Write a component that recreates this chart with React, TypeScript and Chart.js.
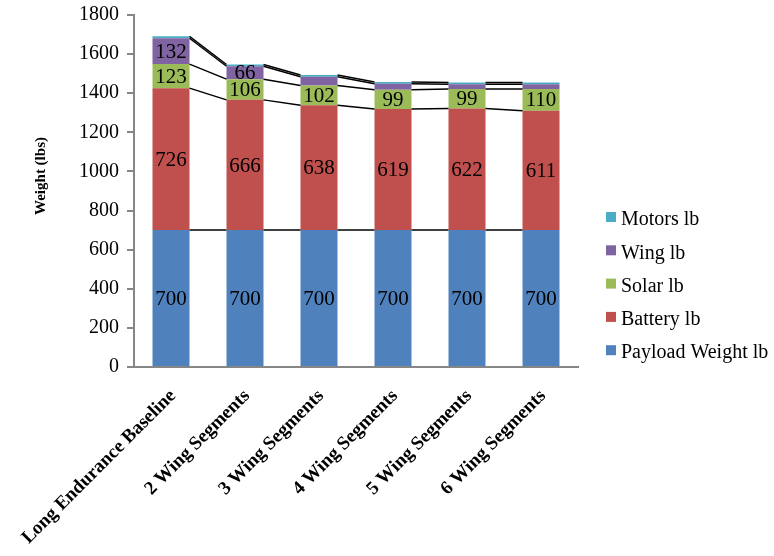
import React, { useEffect, useRef } from 'react';
import { Chart, registerables } from 'chart.js';

Chart.register(...registerables);

const categories = [
  'Long Endurance Baseline',
  '2 Wing Segments',
  '3 Wing Segments',
  '4 Wing Segments',
  '5 Wing Segments',
  '6 Wing Segments',
];
const payloadWeight = [700, 700, 700, 700, 700, 700];
const battery = [726, 666, 638, 619, 622, 611];
const solar = [123, 106, 102, 99, 99, 110];
const wing = [132, 66, 44, 30, 25, 25];
const motors = [10, 9, 9, 9, 9, 9];
const yMin = 0;
const yMax = 1800;
const yStep = 200;
const yTitle = 'Weight (lbs)';

const seriesNames = ['Payload Weight lb', 'Battery lb', 'Solar lb', 'Wing lb', 'Motors lb'];
const seriesColors = ['#4F81BD', '#C0504D', '#9BBB59', '#8064A2', '#4BACC6'];
const seriesData = [payloadWeight, battery, solar, wing, motors];
const labelMin = 50;

const FONT = "'Liberation Serif', 'Times New Roman', serif";

const seriesLinesPlugin = {
  id: 'seriesLines',
  afterDatasetsDraw(chart: any) {
    const ctx = chart.ctx;
    ctx.save();
    ctx.strokeStyle = '#000';
    ctx.lineWidth = 1.5;
    chart.data.datasets.forEach((_ds: any, d: number) => {
      const meta = chart.getDatasetMeta(d);
      for (let i = 0; i < meta.data.length - 1; i++) {
        const a = meta.data[i].getProps(['x', 'y', 'width'], true);
        const b = meta.data[i + 1].getProps(['x', 'y', 'width'], true);
        ctx.beginPath();
        ctx.moveTo(a.x + a.width / 2, a.y);
        ctx.lineTo(b.x - b.width / 2, b.y);
        ctx.stroke();
      }
    });
    ctx.restore();
  },
};

const valueLabelsPlugin = {
  id: 'valueLabels',
  afterDatasetsDraw(chart: any) {
    const ctx = chart.ctx;
    ctx.save();
    ctx.font = `21px ${FONT}`;
    ctx.fillStyle = '#000';
    ctx.textAlign = 'center';
    ctx.textBaseline = 'middle';
    chart.data.datasets.forEach((ds: any, d: number) => {
      if (d > 3) return;
      const meta = chart.getDatasetMeta(d);
      meta.data.forEach((el: any, i: number) => {
        const v = ds.data[i];
        if (v < labelMin) return;
        const p = el.getProps(['x', 'y', 'base'], true);
        ctx.fillText(String(v), p.x, (p.y + p.base) / 2 + 1);
      });
    });
    ctx.restore();
  },
};

const legendPlugin = {
  id: 'customLegend',
  afterDraw(chart: any) {
    const ctx = chart.ctx;
    ctx.save();
    ctx.font = `20px ${FONT}`;
    ctx.textAlign = 'left';
    ctx.textBaseline = 'middle';
    const n = chart.data.datasets.length;
    const x0 = chart.chartArea.right + 28;
    const yStart = 220;
    const gap = 33.3;
    for (let k = 0; k < n; k++) {
      const d = n - 1 - k;
      const ds = chart.data.datasets[d];
      const y = yStart + k * gap;
      ctx.fillStyle = ds.backgroundColor;
      ctx.fillRect(x0, y - 8, 10, 10);
      ctx.fillStyle = '#000';
      ctx.fillText(ds.label, x0 + 15, y);
    }
    ctx.restore();
  },
};

const yTitlePlugin = {
  id: 'yTitle',
  afterDraw(chart: any) {
    const ctx = chart.ctx;
    const area = chart.chartArea;
    ctx.save();
    ctx.font = `bold 15px ${FONT}`;
    ctx.fillStyle = '#000';
    ctx.textAlign = 'center';
    ctx.textBaseline = 'middle';
    ctx.translate(41, (area.top + area.bottom) / 2 - 15);
    ctx.rotate(-Math.PI / 2);
    ctx.fillText(yTitle, 0, 0);
    ctx.restore();
  },
};

export default function App() {
  const ref = useRef<HTMLCanvasElement | null>(null);
  useEffect(() => {
    if (!ref.current) return;
    Chart.defaults.font.family = FONT;
    Chart.defaults.color = '#000';
    const chart = new Chart(ref.current, {
      type: 'bar',
      data: {
        labels: categories,
        datasets: seriesData.map((data, i) => ({
          label: seriesNames[i],
          data,
          backgroundColor: seriesColors[i],
          borderWidth: 0,
          barPercentage: 0.5,
          categoryPercentage: 1,
          stack: 's',
        })),
      },
      options: {
        responsive: false,
        animation: false,
        layout: { padding: { left: 0, top: 15, right: 196, bottom: 0 } },
        plugins: {
          legend: { display: false },
          tooltip: { enabled: false },
        },
        scales: {
          x: {
            stacked: true,
            grid: { display: false, drawTicks: false, tickLength: 0 },
            border: { display: true, color: '#868686', width: 2 },
            ticks: {
              font: { size: 19, weight: 'bold', family: FONT },
              color: '#000',
              maxRotation: 45,
              minRotation: 45,
              autoSkip: false,
              padding: 18,
              labelOffset: 2,
            },
            afterFit(scale: any) {
              scale.height = 189;
              scale.paddingLeft = 0;
              scale.paddingRight = 0;
            },
          },
          y: {
            stacked: true,
            min: yMin,
            max: yMax,
            grid: {
              display: true,
              drawOnChartArea: false,
              drawTicks: true,
              tickLength: 7,
              color: '#868686',
              lineWidth: 2,
            },
            border: { display: true, color: '#868686', width: 2 },
            ticks: {
              stepSize: yStep,
              font: { size: 20, family: FONT },
              color: '#000',
              padding: 8,
              callback: (v: any) => String(v),
            },
            afterFit(scale: any) {
              scale.width = 134;
              scale.paddingTop = 0;
              scale.paddingBottom = 0;
            },
          },
        },
      } as any,
      plugins: [seriesLinesPlugin, valueLabelsPlugin, legendPlugin, yTitlePlugin],
    });
    return () => chart.destroy();
  }, []);
  return (
    <div style={{ position: 'fixed', left: 0, top: 0, width: 774, height: 556, background: '#fff' }}>
      <canvas ref={ref} width={774} height={556} />
    </div>
  );
}
